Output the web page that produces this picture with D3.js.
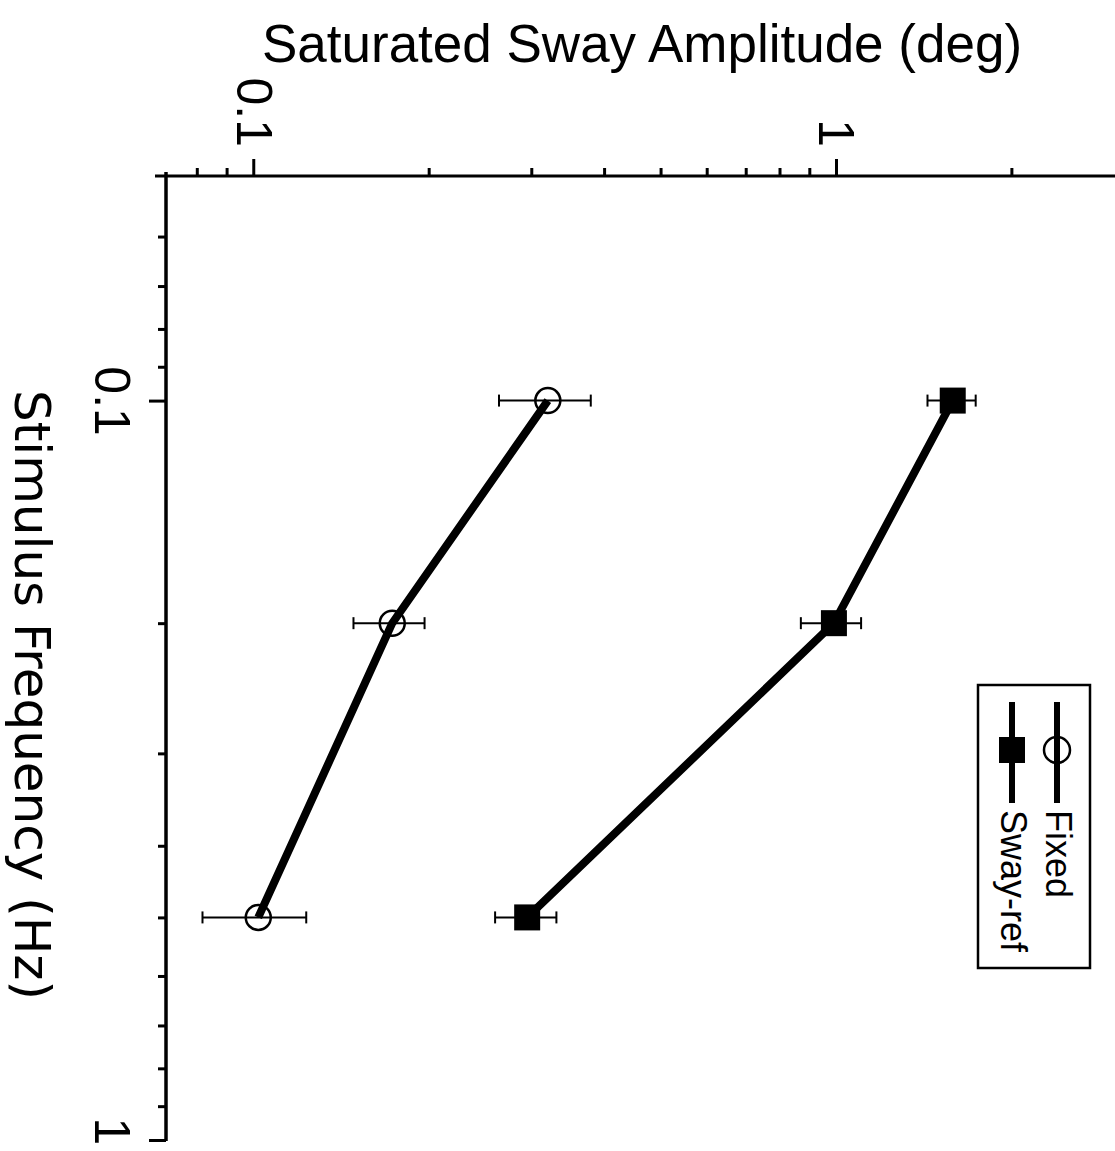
<!DOCTYPE html>
<html>
<head>
<meta charset="utf-8">
<script src="https://cdn.jsdelivr.net/npm/d3@7"></script>
<style>
  html, body { margin: 0; padding: 0; background: #fff; }
  svg { display: block; }
</style>
</head>
<body>
<div id="chart"></div>
<script>
// ---- data ----
const frequencies = [0.1, 0.2, 0.5];            // Hz
const fixedAmp    = [0.319, 0.1725, 0.1016];    // deg
const fixedLo     = [0.263, 0.148, 0.0815];
const fixedHi     = [0.378, 0.196, 0.1228];
const swayRefAmp  = [1.58, 0.988, 0.294];
const swayRefLo   = [1.43, 0.867, 0.259];
const swayRefHi   = [1.73, 1.10, 0.330];
const seriesNames = ["Fixed", "Sway-ref"];
const ampMinorTicks  = [0.08, 0.09, 0.2, 0.3, 0.4, 0.5, 0.6, 0.7, 0.8, 0.9, 2];
const ampMajorTicks  = [0.1, 1];
const ampTickLabels  = ["0.1", "1"];
const freqMinorTicks = [0.06, 0.07, 0.08, 0.09, 0.2, 0.3, 0.4, 0.5, 0.6, 0.7, 0.8, 0.9];
const freqMajorTicks = [0.1, 1];
const freqTickLabels = ["0.1", "1"];
const xTitle = "Stimulus Frequency (Hz)";
const yTitle = "Saturated Sway Amplitude (deg)";

// ---- layout ----
const W = 1115, H = 1151;
const svg = d3.select("#chart").append("svg").attr("width", W).attr("height", H);
svg.append("rect").attr("width", W).attr("height", H).attr("fill", "#fff");

// whole plot is rotated 90deg clockwise
const g = svg.append("g").attr("transform", `translate(${W},0) rotate(90)`);

const x = d3.scaleLog().domain([0.05, 1]).range([178, 1140]);
const y = d3.scaleLog().domain([0.07, 3]).range([951, 0]);

const axisX0 = 176;   // amplitude axis position (inner x)
const axisY0 = 949;   // frequency axis position (inner y)

// axis lines
g.append("line").attr("x1", axisX0).attr("x2", axisX0).attr("y1", 0).attr("y2", 960)
  .attr("stroke", "#000").attr("stroke-width", 3);
g.append("line").attr("x1", 172).attr("x2", x(1) + 1).attr("y1", axisY0).attr("y2", axisY0)
  .attr("stroke", "#000").attr("stroke-width", 3.5);

function styleAxis(sel) {
  sel.select(".domain").remove();
  sel.selectAll(".tick line").attr("stroke", "#000").attr("stroke-width", 3);
}

// amplitude axis
const ampMinor = g.append("g").attr("transform", `translate(${axisX0},0)`)
  .call(d3.axisLeft(y).tickValues(ampMinorTicks).tickSize(8).tickFormat(""));
styleAxis(ampMinor);
const ampMajor = g.append("g").attr("transform", `translate(${axisX0},0)`)
  .call(d3.axisLeft(y).tickValues(ampMajorTicks).tickSize(17).tickPadding(12)
    .tickFormat((d, i) => ampTickLabels[i]));
styleAxis(ampMajor);
ampMajor.selectAll(".tick text")
  .attr("font-family", "Liberation Sans, Arial, sans-serif")
  .attr("font-size", 50).attr("fill", "#000").attr("dy", "0.34em");

// frequency axis
const fMinor = g.append("g").attr("transform", `translate(0,${axisY0})`)
  .call(d3.axisBottom(x).tickValues(freqMinorTicks).tickSize(8).tickFormat(""));
styleAxis(fMinor);
const fMajor = g.append("g").attr("transform", `translate(0,${axisY0})`)
  .call(d3.axisBottom(x).tickValues(freqMajorTicks).tickSize(17)
    .tickFormat((d, i) => freqTickLabels[i]));
styleAxis(fMajor);
fMajor.selectAll(".tick text")
  .attr("font-family", "Liberation Sans, Arial, sans-serif")
  .attr("font-size", 50).attr("fill", "#000").attr("y", 71).attr("dy", 0)
  .attr("dx", d => d === 1 ? -9 : 0);

// axis titles
g.append("text").attr("x", (x(0.05) + x(1)) / 2 + 36).attr("y", 1100)
  .attr("text-anchor", "middle")
  .attr("font-family", "DejaVu Sans, sans-serif").attr("font-size", 50)
  .text(xTitle);
svg.append("text").attr("x", 642).attr("y", 62).attr("text-anchor", "middle")
  .attr("font-family", "Liberation Sans, Arial, sans-serif").attr("font-size", 53)
  .text(yTitle);

// data series
const series = [
  { name: seriesNames[0], v: fixedAmp, lo: fixedLo, hi: fixedHi, marker: "circle" },
  { name: seriesNames[1], v: swayRefAmp, lo: swayRefLo, hi: swayRefHi, marker: "square" }
];
const line = d3.line().x(d => x(d.f)).y(d => y(d.v));

series.forEach(s => {
  const pts = frequencies.map((f, i) => ({ f, v: s.v[i], lo: s.lo[i], hi: s.hi[i] }));
  const eb = g.append("g").attr("stroke", "#000").attr("stroke-width", 2);
  pts.forEach(p => {
    eb.append("line").attr("x1", x(p.f)).attr("x2", x(p.f)).attr("y1", y(p.lo)).attr("y2", y(p.hi));
    eb.append("line").attr("x1", x(p.f) - 6).attr("x2", x(p.f) + 6).attr("y1", y(p.lo)).attr("y2", y(p.lo));
    eb.append("line").attr("x1", x(p.f) - 6).attr("x2", x(p.f) + 6).attr("y1", y(p.hi)).attr("y2", y(p.hi));
  });
  g.append("path").datum(pts).attr("d", line).attr("fill", "none")
    .attr("stroke", "#000").attr("stroke-width", 8).attr("stroke-linejoin", "round");
  if (s.marker === "circle") {
    g.selectAll(null).data(pts).enter().append("circle")
      .attr("cx", d => x(d.f)).attr("cy", d => y(d.v)).attr("r", 12.5)
      .attr("fill", "none").attr("stroke", "#000").attr("stroke-width", 2.5);
  } else {
    g.selectAll(null).data(pts).enter().append("rect")
      .attr("x", d => x(d.f) - 13).attr("y", d => y(d.v) - 13)
      .attr("width", 26).attr("height", 26).attr("fill", "#000");
  }
});

// legend
const lg = g.append("g");
lg.append("rect").attr("x", 685).attr("y", 25).attr("width", 283).attr("height", 112)
  .attr("fill", "#fff").attr("stroke", "#000").attr("stroke-width", 2.5);
const rows = [58, 103];
series.forEach((s, i) => {
  const yy = rows[i];
  lg.append("line").attr("x1", 702).attr("x2", 803).attr("y1", yy).attr("y2", yy)
    .attr("stroke", "#000").attr("stroke-width", 6);
  if (s.marker === "circle") {
    lg.append("circle").attr("cx", 750).attr("cy", yy).attr("r", 13)
      .attr("fill", "none").attr("stroke", "#000").attr("stroke-width", 2.5);
  } else {
    lg.append("rect").attr("x", 737).attr("y", yy - 13).attr("width", 26).attr("height", 26)
      .attr("fill", "#000");
  }
  lg.append("text").attr("x", 810).attr("y", yy + 11)
    .attr("font-family", "Liberation Sans, Arial, sans-serif").attr("font-size", 36)
    .text(s.name);
});
</script>
</body>
</html>
